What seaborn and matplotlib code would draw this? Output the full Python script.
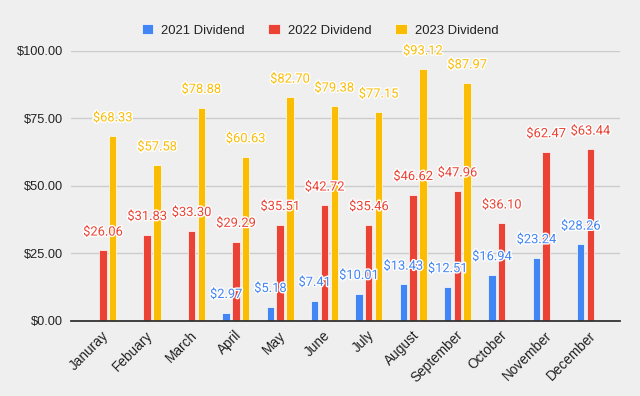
import matplotlib
matplotlib.use("Agg")
import matplotlib.pyplot as plt
import matplotlib.patheffects as pe
import matplotlib.transforms as mtransforms
import numpy as np
import pandas as pd
import seaborn as sns

months = ["Januray", "Febuary", "March", "April", "May", "June", "July",
          "August", "September", "October", "November", "December"]
series = ["2021 Dividend", "2022 Dividend", "2023 Dividend"]
div_2021 = [np.nan, np.nan, np.nan, 2.97, 5.18, 7.41, 10.01, 13.43, 12.51, 16.94, 23.24, 28.26]
div_2022 = [26.06, 31.83, 33.30, 29.29, 35.51, 42.72, 35.46, 46.62, 47.96, 36.10, 62.47, 63.44]
div_2023 = [68.33, 57.58, 78.88, 60.63, 82.70, 79.38, 77.15, 93.12, 87.97, np.nan, np.nan, np.nan]
colors = ["#4285F4", "#EA4335", "#FBBC04"]

df = pd.DataFrame({
    "month": months * 3,
    "series": [s for s in series for _ in months],
    "value": div_2021 + div_2022 + div_2023,
})

BG = "#efefef"
sns.set_theme(style="white")
plt.rcParams["font.family"] = ["Liberation Sans", "DejaVu Sans"]

fig = plt.figure(figsize=(6.4, 3.96), dpi=100, facecolor=BG)
ax = fig.add_axes([0.1116, 0.19, 0.8572, 0.682])
ax.set_facecolor(BG)

sns.barplot(data=df, x="month", y="value", hue="series", order=months,
            hue_order=series, palette=colors, saturation=1, width=0.66,
            gap=0.24, edgecolor="white", linewidth=0.5, ax=ax, zorder=3)

for cont, col in zip(ax.containers, colors):
    labels = ["" if np.isnan(v) else f"${v:.2f}" for v in cont.datavalues]
    texts = ax.bar_label(cont, labels=labels, padding=8.5, color=col,
                         fontsize=9.3, family="Roboto", clip_on=False)
    for t in texts:
        t.set_path_effects([pe.withStroke(linewidth=2, foreground="white")])
        t.set_zorder(5)

ax.set_ylim(0, 100)
ax.set_xlim(-0.71, 11.67)
ax.set_yticks([0, 25, 50, 75, 100])
ax.set_yticklabels([f"${v:.2f}" for v in [0, 25, 50, 75, 100]])
ax.grid(axis="y", color="#cccccc", linewidth=1, zorder=0)
ax.set_axisbelow(True)
for s in ["top", "right", "left"]:
    ax.spines[s].set_visible(False)
ax.spines["bottom"].set_color("#333333")
ax.spines["bottom"].set_linewidth(1.3)
ax.spines["bottom"].set_zorder(4)
ax.set_xlabel("")
ax.set_ylabel("")
ax.tick_params(axis="both", length=0, colors="#222222")
ax.tick_params(axis="y", pad=6, labelsize=9.2)
ax.tick_params(axis="x", pad=9, labelsize=9.8)

shift = mtransforms.ScaledTranslation(3.5 / 100, 0, fig.dpi_scale_trans)
for lab in ax.get_xticklabels():
    lab.set_rotation(45)
    lab.set_ha("right")
    lab.set_va("center")
    lab.set_rotation_mode("anchor")
    lab.set_transform(lab.get_transform() + shift)

handles, lbls = ax.get_legend_handles_labels()
ax.legend(handles, lbls, ncol=3, loc="center", bbox_to_anchor=(0.5, 0.924),
          bbox_transform=fig.transFigure, frameon=False, fontsize=9.4,
          handlelength=0.9, handleheight=0.9, handletextpad=0.6,
          columnspacing=1.8, labelcolor="#222222")

fig.savefig("out.png", dpi=100, facecolor=BG)
